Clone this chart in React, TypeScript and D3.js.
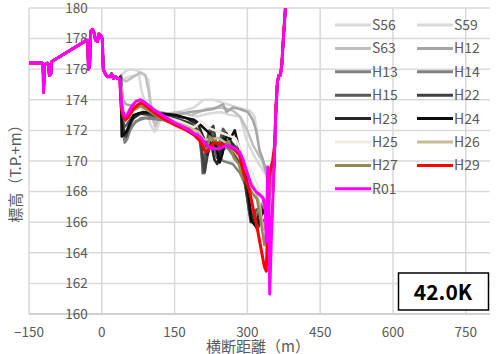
import { useEffect, useRef } from 'react';
import * as d3 from 'd3';

// shared left bank (distance m, elevation T.P.+m)
const leftBank: [number, number][] = [
  [-150, 176.4], [-123, 176.4], [-121, 176.2], [-120, 174.5], [-118, 176.3], [-112, 176.4],
  [-110, 176.3], [-108, 175.6], [-105, 175.7], [-103, 176.5], [-31, 177.9], [-29, 177.9],
  [-27.5, 176.0], [-25, 176.2], [-23, 178.5], [-19, 178.6], [-16, 178.4], [-13, 177.9],
  [-9, 177.8], [-6, 178.3], [-2, 178.2], [1, 178.0], [3, 176.0], [7, 175.7], [12, 175.5],
  [17, 175.5], [20, 175.7], [24, 175.4], [28, 175.5], [33, 175.4], [37, 175.4]
];
// shared right bank
const rightBank: [number, number][] = [
  [359, 173.5], [362, 175.2], [365, 175.6], [368, 175.6], [371, 176.3], [374, 177.9],
  [378, 179.8], [385, 183.5]
];

const S56: [number, number][] = [
  [40, 175.6], [50, 175.9], [60, 176.0], [75, 175.9], [82, 174.6], [92, 173.5], [100, 172.4],
  [108, 171.9], [116, 172.5], [130, 173.0], [160, 173.2], [190, 173.5], [210, 174.0],
  [230, 174.0], [250, 173.8], [270, 173.6], [290, 173.4], [305, 173.3], [315, 172.9],
  [320, 171.8], [326, 170.5], [334, 169.5], [342, 168.8], [350, 169.0], [356, 170.5]
];
const S59: [number, number][] = [
  [40, 175.3], [55, 175.5], [70, 175.6], [85, 175.7], [96, 175.3], [100, 174.0], [106, 172.6],
  [112, 172.0], [120, 172.6], [140, 172.9], [170, 173.1], [195, 172.9], [222, 173.1],
  [245, 173.2], [265, 173.0], [285, 172.9], [298, 171.4], [305, 170.9], [318, 170.1],
  [330, 169.5], [340, 169.0], [350, 169.2], [356, 170.5]
];
const S63: [number, number][] = [
  [40, 175.4], [50, 175.2], [65, 175.5], [80, 175.8], [90, 175.6], [97, 174.5], [103, 173.2],
  [110, 172.3], [118, 172.8], [135, 173.1], [160, 173.2], [185, 173.0], [215, 173.4],
  [245, 173.5], [270, 173.3], [285, 172.9], [300, 172.0], [312, 171.0], [325, 170.3],
  [335, 169.8], [345, 169.3], [356, 170.5]
];
const H12: [number, number][] = [
  [40, 175.3], [44, 174.0], [50, 173.7], [65, 173.6], [90, 173.4], [120, 173.2], [150, 173.0],
  [181, 173.2], [210, 173.3], [230, 173.4], [250, 173.7], [257, 173.2], [270, 173.5],
  [284, 173.4], [301, 173.2], [311, 172.7], [318, 172.0], [325, 170.7], [332, 170.1],
  [342, 168.8], [350, 168.5], [356, 170.5]
];
const H13: [number, number][] = [
  [40, 175.6], [43, 172.3], [47, 171.2], [52, 171.4], [58, 172.0], [70, 172.6], [90, 172.8],
  [120, 172.7], [150, 172.6], [180, 172.3], [200, 172.0], [210, 171.5], [220, 171.0],
  [230, 170.8], [240, 170.3], [250, 170.0], [260, 169.9], [270, 169.8], [285, 169.2],
  [295, 168.5], [305, 167.0], [315, 166.3], [325, 166.8], [335, 167.5], [345, 167.0], [356, 170.3]
];
const H14: [number, number][] = [
  [40, 175.5], [44, 172.6], [48, 171.4], [54, 171.7], [62, 172.3], [80, 172.8], [110, 172.9],
  [150, 172.7], [185, 172.4], [200, 171.8], [205, 170.5], [212, 169.2], [218, 170.8],
  [225, 171.6], [235, 171.2], [245, 170.6], [258, 170.9], [270, 170.4], [285, 169.8],
  [296, 168.6], [306, 166.8], [316, 165.8], [326, 166.4], [338, 166.9], [348, 166.4], [356, 170.3]
];
const H15: [number, number][] = [
  [38, 175.4], [42, 173.5], [46, 172.2], [52, 172.4], [60, 172.8], [75, 173.1], [100, 173.0],
  [130, 172.8], [160, 172.7], [185, 172.4], [200, 172.0], [205, 170.8], [208, 169.2],
  [213, 170.5], [220, 171.9], [226, 172.2], [232, 171.0], [237, 170.2], [243, 171.3],
  [250, 172.1], [258, 171.7], [268, 171.2], [280, 170.8], [290, 170.0], [298, 168.0],
  [305, 166.5], [310, 166.0], [318, 166.8], [330, 167.0], [342, 166.5], [356, 170.3]
];
const H22: [number, number][] = [
  [38, 175.4], [41, 173.0], [44, 171.7], [50, 171.6], [56, 172.2], [65, 172.8], [80, 173.1],
  [110, 173.0], [150, 172.8], [180, 172.5], [200, 171.9], [207, 170.6], [212, 169.3],
  [217, 170.2], [224, 171.8], [230, 172.3], [236, 171.0], [242, 170.0], [248, 170.8],
  [255, 171.5], [262, 171.0], [270, 170.6], [280, 170.2], [290, 169.5], [300, 167.5],
  [307, 166.0], [312, 166.5], [320, 165.5], [330, 166.2], [340, 165.8], [348, 165.3], [356, 170.3]
];
const H23: [number, number][] = [
  [38, 175.4], [42, 172.5], [46, 171.8], [52, 172.0], [60, 172.6], [75, 173.1], [100, 173.2],
  [140, 173.0], [175, 172.8], [200, 172.3], [210, 171.5], [218, 170.4], [225, 171.2],
  [232, 170.1], [238, 169.8], [245, 170.7], [252, 171.8], [260, 171.6], [270, 171.0],
  [282, 170.4], [292, 169.6], [300, 168.0], [308, 166.3], [316, 165.9], [325, 166.6],
  [335, 166.9], [345, 166.2], [356, 170.3]
];
const H24: [number, number][] = [
  [38, 175.5], [40, 173.5], [41, 171.6], [51, 171.9], [65, 173.0], [85, 173.2], [120, 173.1],
  [154, 173.0], [175, 172.8], [190, 172.7], [202, 172.4], [222, 171.8], [236, 170.9],
  [243, 169.9], [249, 170.5], [257, 171.8], [264, 171.4], [274, 172.0], [280, 171.2],
  [290, 170.1], [300, 168.6], [308, 166.1], [318, 165.7], [330, 166.5], [340, 167.0],
  [350, 166.0], [356, 170.3]
];
const H25: [number, number][] = [
  [40, 174.8], [45, 173.2], [60, 173.4], [80, 173.5], [120, 173.0], [160, 172.6], [190, 172.2],
  [205, 172.6], [225, 172.1], [250, 171.8], [275, 171.5], [290, 170.5], [305, 169.5],
  [320, 168.5], [335, 167.0], [345, 166.0], [356, 170.5]
];
const H26: [number, number][] = [
  [40, 174.6], [44, 173.1], [49, 172.8], [56, 173.0], [66, 173.4], [80, 173.7], [100, 173.3],
  [125, 172.9], [155, 172.5], [180, 172.2], [200, 171.9], [210, 171.4], [222, 171.4],
  [240, 171.5], [255, 171.2], [270, 170.8], [285, 170.1], [295, 169.5], [305, 168.8],
  [315, 168.2], [325, 167.2], [333, 165.5], [340, 166.5], [350, 169.0], [356, 170.5]
];
const H27: [number, number][] = [
  [40, 174.5], [44, 173.0], [48, 172.6], [55, 172.9], [65, 173.3], [80, 173.6], [100, 173.2],
  [120, 172.8], [150, 172.4], [180, 172.1], [200, 171.6], [210, 171.0], [216, 170.6],
  [223, 171.6], [232, 171.3], [240, 171.2], [250, 171.0], [262, 171.3], [272, 170.2],
  [282, 169.8], [290, 169.0], [300, 168.5], [310, 167.9], [320, 167.5], [328, 166.0],
  [335, 164.5], [342, 166.0], [348, 168.5], [356, 170.5]
];
const H29: [number, number][] = [
  [40, 173.5], [44, 172.9], [49, 172.7], [55, 172.9], [65, 173.4], [75, 173.7], [82, 173.8],
  [95, 173.5], [115, 173.0], [135, 172.6], [155, 172.3], [175, 172.0], [190, 171.7],
  [203, 171.3], [212, 170.7], [217, 170.6], [223, 170.9], [232, 171.2], [245, 171.1],
  [260, 171.0], [272, 170.8], [284, 170.4], [294, 169.0], [304, 168.1], [321, 165.5],
  [335, 163.1], [339, 162.8], [342, 166.0], [345, 169.0], [352, 170.0], [356, 171.0]
];
const R01: [number, number][] = [
  [41, 173.6], [44, 173.2], [48, 172.9], [52, 173.0], [60, 173.5], [70, 173.9], [80, 174.0],
  [90, 173.8], [110, 173.3], [130, 172.9], [150, 172.5], [170, 172.2], [181, 172.0],
  [190, 171.8], [202, 171.6], [212, 171.2], [222, 170.9], [229, 170.8], [243, 170.8],
  [257, 171.05], [270, 170.9], [284, 170.6], [291, 170.1], [298, 169.4], [308, 168.4],
  [318, 168.0], [332, 167.6], [337, 166.8], [339, 164.7], [342, 169.6], [344, 169.4],
  [346, 161.3], [349, 164.5], [353, 168.0], [356, 170.5]
];

const seriesNames = ['S56', 'S59', 'S63', 'H12', 'H13', 'H14', 'H15', 'H22', 'H23', 'H24', 'H25', 'H26', 'H27', 'H29', 'R01'];
const seriesValues = [S56, S59, S63, H12, H13, H14, H15, H22, H23, H24, H25, H26, H27, H29, R01];
const seriesColors = ['#d9d9d9', '#d9d9d9', '#bfbfbf', '#a6a6a6', '#808080', '#808080', '#595959', '#404040', '#262626', '#0d0d0d', '#eeece1', '#c4bd97', '#948a54', '#ff0000', '#ff00ff'];

const xTicks = [-150, 0, 150, 300, 450, 600, 750];
const yTicks = [160, 162, 164, 166, 168, 170, 172, 174, 176, 178, 180];
const sectionLabel = '42.0K';

const App = () => {
  const ref = useRef<SVGSVGElement>(null);
  useEffect(() => {
    const svg = d3.select(ref.current);
    svg.selectAll('*').remove();
    const width = 500;
    const height = 354;
    const plot = { left: 29, right: 490, top: 8, bottom: 314 };
    const font = '"Noto Sans CJK JP", "Noto Sans", sans-serif';

    const xScale = d3.scaleLinear().domain([-150, 800]).range([plot.left, plot.right]);
    const yScale = d3.scaleLinear().domain([160, 180]).range([plot.bottom, plot.top]);

    svg.append('rect').attr('width', width).attr('height', height).attr('fill', '#fff');

    // grid
    const grid = svg.append('g');
    grid.selectAll('line.h').data(yTicks).enter().append('line')
      .attr('x1', plot.left).attr('x2', plot.right)
      .attr('y1', d => yScale(d)).attr('y2', d => yScale(d))
      .attr('stroke', '#d9d9d9').attr('stroke-width', 1.5);
    grid.selectAll('line.v').data(xTicks).enter().append('line')
      .attr('y1', plot.top).attr('y2', plot.bottom)
      .attr('x1', d => xScale(d)).attr('x2', d => xScale(d))
      .attr('stroke', '#d9d9d9').attr('stroke-width', 1.5);
    grid.append('line')
      .attr('x1', plot.left).attr('x2', plot.right)
      .attr('y1', yScale(160)).attr('y2', yScale(160))
      .attr('stroke', '#d0d0d0').attr('stroke-width', 2);

    // y tick labels next to the x=0 axis
    svg.append('g').selectAll('text').data(yTicks).enter().append('text')
      .attr('x', xScale(0) - 14).attr('y', d => yScale(d))
      .attr('dy', '0.36em').attr('text-anchor', 'end')
      .attr('font-family', font).attr('font-size', 13.5).attr('fill', '#595959')
      .text(d => d);

    // x tick labels
    svg.append('g').selectAll('text').data(xTicks).enter().append('text')
      .attr('x', d => xScale(d)).attr('y', 337)
      .attr('text-anchor', 'middle')
      .attr('font-family', font).attr('font-size', 13.5).attr('fill', '#595959')
      .text(d => (d < 0 ? '\u2212' + Math.abs(d) : d));

    // axis titles
    svg.append('text').text('横断距離（m）')
      .attr('x', 258).attr('y', 352).attr('text-anchor', 'middle')
      .attr('font-family', font).attr('font-size', 15).attr('fill', '#595959');
    svg.append('text').text('標高（T.P.+m）')
      .attr('transform', 'translate(21,170) rotate(-90)').attr('text-anchor', 'middle')
      .attr('font-family', font).attr('font-size', 15).attr('fill', '#595959');

    // lines
    svg.append('clipPath').attr('id', 'plotClip').append('rect')
      .attr('x', plot.left).attr('y', plot.top)
      .attr('width', plot.right - plot.left).attr('height', plot.bottom - plot.top);
    const line = d3.line<[number, number]>().x(d => xScale(d[0])).y(d => yScale(d[1]));
    const lines = svg.append('g').attr('clip-path', 'url(#plotClip)');
    seriesValues.forEach((vals, i) => {
      const pts = [...leftBank, ...vals, ...rightBank];
      lines.append('path').datum(pts)
        .attr('d', line)
        .attr('fill', 'none')
        .attr('stroke', seriesColors[i])
        .attr('stroke-width', i >= 13 ? 3 : 2.5)
        .attr('stroke-linejoin', 'round');
    });

    // legend
    const legend = svg.append('g');
    seriesNames.forEach((name, i) => {
      const col = i % 2;
      const row = Math.floor(i / 2);
      const lx = col === 0 ? 335 : 417;
      const ly = 25 + row * 23.4;
      legend.append('line')
        .attr('x1', lx).attr('x2', lx + 36).attr('y1', ly).attr('y2', ly)
        .attr('stroke', seriesColors[i]).attr('stroke-width', 3);
      legend.append('text').text(name)
        .attr('x', lx + 37).attr('y', ly).attr('dy', '0.36em')
        .attr('font-family', font).attr('font-size', 14).attr('fill', '#595959');
    });

    // section label box
    svg.append('rect')
      .attr('x', 398.5).attr('y', 273).attr('width', 90).attr('height', 37)
      .attr('fill', '#fff').attr('stroke', '#000').attr('stroke-width', 1.5);
    svg.append('text').text(sectionLabel)
      .attr('x', 443).attr('y', 292).attr('dy', '0.36em').attr('text-anchor', 'middle')
      .attr('font-family', font).attr('font-size', 21).attr('font-weight', 'bold').attr('fill', '#000');
  }, []);

  return (
    <svg ref={ref} width={500} height={354}
      style={{ position: 'absolute', left: 0, top: 0, display: 'block' }} />
  );
};

export default App;
